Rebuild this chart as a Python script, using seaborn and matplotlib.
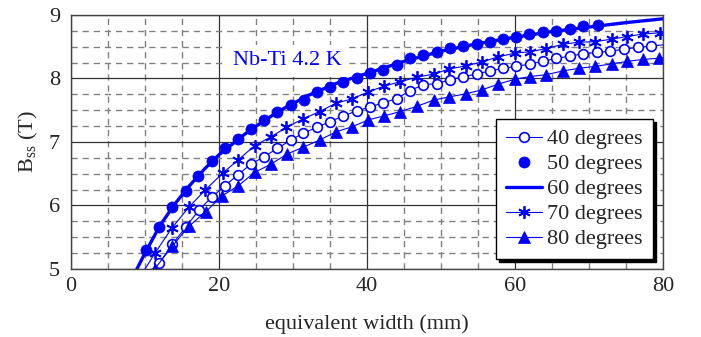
import matplotlib
matplotlib.use("Agg")
import matplotlib.pyplot as plt
import seaborn as sns
from matplotlib.ticker import MultipleLocator

# ---------------- data ----------------
w40 = [11.9, 13.7, 15.5, 17.3, 19.0, 20.8, 22.5, 24.3, 26.1, 27.9,
       29.7, 31.4, 33.2, 35.0, 36.8, 38.6, 40.4, 42.2, 44.0, 45.8,
       47.6, 49.4, 51.2, 53.0, 54.8, 56.6, 58.4, 60.2, 62.0, 63.8,
       65.6, 67.4, 69.2, 71.1, 72.9, 74.7, 76.6, 78.4]
b40 = [5.09, 5.39, 5.66, 5.93, 6.13, 6.31, 6.48, 6.65, 6.77, 6.90,
       7.03, 7.14, 7.23, 7.32, 7.41, 7.49, 7.55, 7.62, 7.68, 7.81,
       7.90, 7.92, 7.98, 8.03, 8.07, 8.12, 8.16, 8.19, 8.23, 8.27,
       8.32, 8.35, 8.39, 8.41, 8.43, 8.46, 8.49, 8.51]

w50 = [10.2, 11.9, 13.7, 15.5, 17.2, 19.0, 20.8, 22.5, 24.3, 26.1,
       27.9, 29.7, 31.5, 33.3, 35.0, 36.8, 38.6, 40.4, 42.2, 44.0,
       45.8, 47.5, 49.4, 51.2, 53.0, 54.8, 56.6, 58.4, 60.2, 61.9,
       63.8, 65.6, 67.4, 69.2, 71.2]
b50 = [5.30, 5.66, 5.97, 6.23, 6.47, 6.70, 6.91, 7.04, 7.20, 7.34,
       7.47, 7.58, 7.66, 7.78, 7.86, 7.95, 8.00, 8.08, 8.13, 8.21,
       8.32, 8.37, 8.42, 8.48, 8.51, 8.54, 8.58, 8.62, 8.66, 8.70,
       8.74, 8.75, 8.78, 8.82, 8.84]

w60 = [8.9, 10, 12, 14, 16, 18, 20, 24, 28, 32, 36, 40, 45, 50, 55, 60, 65, 70, 75, 80]
b60 = [5.00, 5.25, 5.68, 6.02, 6.31, 6.57, 6.80, 7.17, 7.48, 7.73,
       7.93, 8.08, 8.27, 8.43, 8.55, 8.65, 8.74, 8.81, 8.88, 8.94]

w70 = [11.35, 13.6, 15.9, 18.1, 20.5, 22.6, 24.8, 27.0, 29.1, 31.3,
       33.6, 35.8, 38.0, 40.2, 42.3, 44.5, 46.7, 49.0, 51.1, 53.4,
       55.5, 57.7, 60.0, 62.0, 64.2, 66.5, 68.6, 70.8, 73.1, 75.1,
       77.3, 79.6]
b70 = [5.25, 5.64, 5.97, 6.24, 6.51, 6.72, 6.94, 7.08, 7.23, 7.36,
       7.48, 7.61, 7.68, 7.79, 7.88, 7.95, 8.02, 8.07, 8.15, 8.20,
       8.26, 8.34, 8.40, 8.42, 8.47, 8.54, 8.57, 8.58, 8.62, 8.66,
       8.70, 8.72]

w80 = [11.3, 13.7, 15.9, 18.2, 20.4, 22.6, 24.8, 27.0, 29.2, 31.4,
       33.6, 35.8, 38.0, 40.2, 42.3, 44.5, 46.7, 49.0, 51.1, 53.4,
       55.5, 57.7, 60.0, 62.0, 64.2, 66.5, 68.6, 70.8, 73.1, 75.2,
       77.3, 79.5]
b80 = [5.00, 5.36, 5.67, 5.90, 6.15, 6.31, 6.52, 6.65, 6.81, 6.92,
       7.03, 7.16, 7.24, 7.35, 7.41, 7.48, 7.56, 7.66, 7.71, 7.76,
       7.82, 7.91, 7.99, 8.03, 8.06, 8.12, 8.16, 8.19, 8.23, 8.27,
       8.30, 8.32]

# where the thin connecting lines leave the frame
line_start_40, line_end_40 = 11.3, 8.53
line_start_70, line_end_70 = 10.0, 8.73
line_start_80, line_end_80 = 10.9, 8.33

labels = ["40 degrees", "50 degrees", "60 degrees", "70 degrees", "80 degrees"]
x_ticks = [0, 20, 40, 60, 80]
y_ticks = [5, 6, 7, 8, 9]

# ---------------- style ----------------
sns.set_style("ticks")
plt.rcParams["font.family"] = ["Liberation Serif", "DejaVu Serif"]
plt.rcParams["mathtext.fontset"] = "custom"
plt.rcParams["mathtext.rm"] = "Liberation Serif"
plt.rcParams["mathtext.it"] = "Liberation Serif:italic"

BLUE = "#0000ff"
FS = 16

fig = plt.figure(figsize=(7.01, 3.37), dpi=100)
ax = fig.add_axes([0.1013, 0.2018, 0.8445, 0.7537])

def thin_series(w, b, x0, yend, marker, label, filled, ms, mew):
    xs = [x0] + list(w) + [80]
    ys = [5.0] + list(b) + [yend]
    sns.lineplot(x=xs, y=ys, ax=ax, sort=False, estimator=None,
                 color=BLUE, linewidth=0.8, marker=marker,
                 markevery=list(range(1, len(w) + 1)),
                 markersize=ms, markeredgewidth=mew,
                 markeredgecolor=BLUE,
                 markerfacecolor=BLUE if filled else "white",
                 label=label, clip_on=True)

thin_series(w40, b40, line_start_40, line_end_40, "o", labels[0], False, 7, 1.2)
sns.lineplot(x=w50, y=b50, ax=ax, sort=False, estimator=None, color=BLUE,
             linestyle="none", marker="o", markersize=8,
             markeredgecolor=BLUE, markerfacecolor=BLUE, markeredgewidth=0.5,
             label=labels[1])
sns.lineplot(x=w60, y=b60, ax=ax, sort=False, estimator=None, color=BLUE,
             linewidth=2.4, label=labels[2])
thin_series(w70, b70, line_start_70, line_end_70, (6, 2, 0), labels[3], False, 9, 1.3)
thin_series(w80, b80, line_start_80, line_end_80, "^", labels[4], True, 8, 0.5)

ax.set_xlim(0, 80)
ax.set_ylim(5, 9)
ax.xaxis.set_major_locator(MultipleLocator(20))
ax.xaxis.set_minor_locator(MultipleLocator(5))
ax.yaxis.set_major_locator(MultipleLocator(1))
ax.yaxis.set_minor_locator(MultipleLocator(0.25))
ax.set_xticks(x_ticks)
ax.set_yticks(y_ticks)
ax.set_axisbelow(True)
ax.grid(which="major", color="#333333", linewidth=0.9, linestyle="-")
ax.grid(which="minor", color="#808080", linewidth=1.0, linestyle=(0, (4.5, 3.5)))
ax.tick_params(which="both", direction="in", length=0, labelsize=FS)
ax.tick_params(axis="x", pad=6)
ax.tick_params(axis="y", pad=8)
for s in ax.spines.values():
    s.set_color("#444444")
    s.set_linewidth(1.0)

ax.set_xlabel("equivalent width (mm)", fontsize=FS, labelpad=13)
ax.set_ylabel(r"B$_{\mathrm{ss}}$ (T)", fontsize=FS, labelpad=6)

ax.text(21.9, 8.28, "Nb-Ti 4.2 K", color=BLUE, fontsize=FS, va="center", ha="left",
        bbox=dict(facecolor="white", edgecolor="none", boxstyle="square,pad=0.3"))

handles, labs = ax.get_legend_handles_labels()
order = [labs.index(l) for l in labels]
leg = ax.legend([handles[i] for i in order], [labs[i] for i in order],
                loc="lower right", bbox_to_anchor=(0.983, 0.038), borderaxespad=0,
                fontsize=FS, frameon=True, fancybox=False,
                shadow={"color": "black", "alpha": 1.0},
                handlelength=1.6, handletextpad=0.25, labelspacing=0.2,
                borderpad=0.45, framealpha=1)
leg.get_frame().set_edgecolor("black")
leg.get_frame().set_linewidth(1.0)

fig.savefig("out.png", dpi=100)
